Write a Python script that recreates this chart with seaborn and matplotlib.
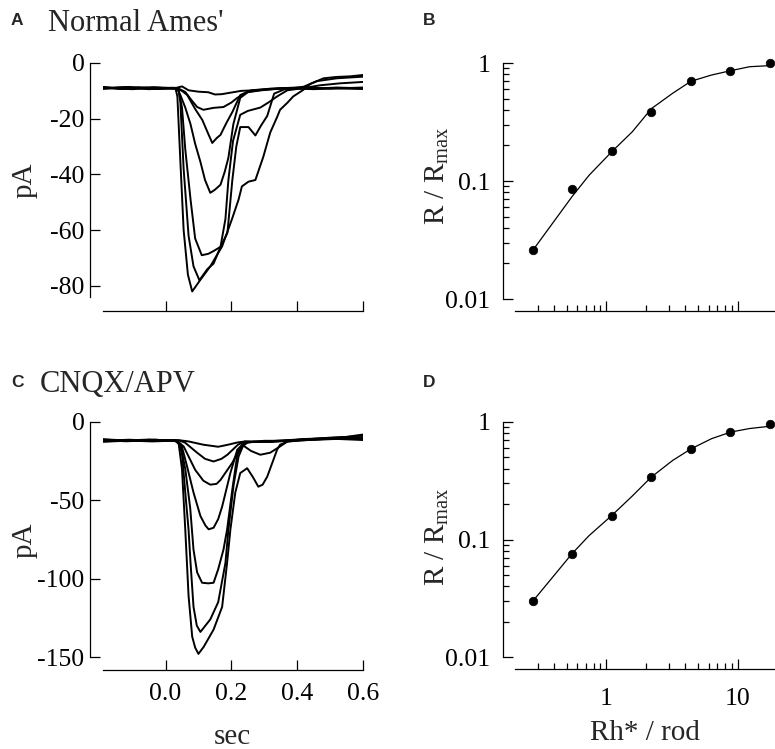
import numpy as np
import pandas as pd
import seaborn as sns
import matplotlib.pyplot as plt
from matplotlib.ticker import FixedLocator, FuncFormatter, LogLocator, NullFormatter

# ---- traces, panel A (Normal Ames'), (sec, pA) ----
ames_1 = [(-0.19, -8.6), (-0.14, -9.2), (-0.08, -8.7), (-0.02, -9.3), (0.03, -9.0), (0.05, -8.4),
          (0.07, -9.8), (0.10, -10.3), (0.13, -10.5), (0.15, -11.3), (0.17, -11.2), (0.20, -10.6),
          (0.23, -10.0), (0.27, -9.8), (0.32, -9.3), (0.38, -9.0), (0.45, -9.4), (0.52, -9.0), (0.60, -9.3)]
ames_2 = [(-0.19, -9.3), (-0.12, -8.8), (-0.05, -9.4), (0.02, -8.9), (0.04, -9.2), (0.06, -10.4),
          (0.08, -13.5), (0.096, -15.8), (0.115, -16.8), (0.146, -16.1), (0.176, -15.8), (0.20, -14.2),
          (0.218, -12.5), (0.25, -10.3), (0.30, -9.6), (0.36, -9.0), (0.44, -9.3), (0.52, -8.8), (0.60, -9.1)]
ames_3 = [(-0.19, -8.9), (-0.10, -9.4), (-0.03, -8.8), (0.035, -9.3), (0.05, -10.0), (0.066, -11.5),
          (0.09, -16.5), (0.112, -20.5), (0.13, -25.5), (0.142, -28.7), (0.155, -27.0), (0.167, -25.8),
          (0.185, -21.5), (0.203, -17.6), (0.227, -11.5), (0.26, -9.8), (0.32, -9.2), (0.40, -8.8),
          (0.50, -9.2), (0.60, -8.8)]
ames_4 = [(-0.19, -9.0), (-0.11, -8.6), (-0.04, -9.3), (0.035, -9.0), (0.045, -11.5), (0.06, -16.0),
          (0.076, -22.0), (0.09, -29.0), (0.106, -35.5), (0.12, -42.0), (0.136, -46.6), (0.15, -45.5),
          (0.167, -43.7), (0.18, -39.0), (0.191, -34.0), (0.206, -22.0), (0.227, -12.5), (0.25, -10.5),
          (0.29, -9.8), (0.35, -9.2), (0.45, -9.0), (0.60, -9.2)]
ames_5 = [(-0.19, -8.7), (-0.13, -9.3), (-0.06, -8.8), (0.03, -9.2), (0.04, -10.0), (0.05, -16.0),
          (0.06, -31.0), (0.076, -49.0), (0.09, -63.0), (0.11, -69.0), (0.13, -68.5), (0.146, -67.5),
          (0.167, -66.0), (0.182, -56.0), (0.191, -42.0), (0.205, -28.0), (0.227, -18.6), (0.25, -17.2),
          (0.288, -16.0), (0.315, -14.0), (0.339, -12.0), (0.37, -9.8), (0.42, -9.0), (0.47, -8.0),
          (0.53, -7.3), (0.60, -6.8)]
ames_6 = [(-0.19, -9.1), (-0.12, -8.7), (-0.05, -9.2), (0.03, -8.9), (0.04, -10.0), (0.045, -14.0),
          (0.055, -38.0), (0.07, -62.0), (0.085, -73.0), (0.103, -78.0), (0.127, -74.0), (0.146, -72.0),
          (0.167, -66.0), (0.188, -61.0), (0.203, -42.0), (0.215, -30.0), (0.227, -23.0), (0.252, -23.0),
          (0.273, -26.0), (0.29, -22.5), (0.309, -19.0), (0.33, -11.0), (0.36, -9.5), (0.42, -8.5),
          (0.46, -6.5), (0.52, -5.5), (0.56, -5.2), (0.60, -4.9)]
ames_7 = [(-0.19, -8.8), (-0.11, -9.3), (-0.04, -8.7), (0.03, -9.0), (0.036, -12.0), (0.045, -35.0),
          (0.055, -60.0), (0.068, -76.0), (0.081, -82.0), (0.093, -80.0), (0.106, -77.8), (0.136, -73.0),
          (0.172, -65.8), (0.202, -56.0), (0.222, -49.0), (0.232, -44.3), (0.252, -42.6), (0.273, -42.0),
          (0.297, -33.7), (0.318, -25.0), (0.339, -19.4), (0.348, -16.8), (0.37, -14.3), (0.388, -12.0),
          (0.418, -9.7), (0.44, -7.5), (0.48, -5.5), (0.52, -5.0), (0.56, -4.8), (0.60, -4.3)]

# ---- traces, panel C (CNQX/APV) ----
cnqx_1 = [(-0.19, -11.0), (-0.12, -11.8), (-0.05, -11.2), (0.02, -11.8), (0.04, -11.6), (0.07, -12.4),
          (0.115, -14.5), (0.16, -15.8), (0.19, -14.5), (0.22, -13.0), (0.243, -12.4), (0.28, -12.8),
          (0.32, -12.2), (0.37, -11.6), (0.43, -10.8), (0.50, -10.2), (0.55, -9.6), (0.60, -8.6)]
cnqx_2 = [(-0.19, -12.0), (-0.11, -11.3), (-0.04, -12.1), (0.03, -11.5), (0.045, -12.0), (0.06, -13.3),
          (0.096, -19.6), (0.12, -23.5), (0.146, -25.2), (0.17, -23.5), (0.188, -20.9), (0.22, -14.5),
          (0.24, -12.5), (0.30, -12.4), (0.36, -11.9), (0.42, -11.2), (0.50, -10.8), (0.60, -10.2)]
cnqx_3 = [(-0.19, -11.4), (-0.12, -12.3), (-0.03, -11.6), (0.035, -12.0), (0.055, -15.6), (0.09, -30.5),
          (0.115, -37.5), (0.136, -40.0), (0.155, -39.5), (0.167, -37.0), (0.203, -26.0), (0.227, -16.5),
          (0.25, -13.0), (0.30, -12.0), (0.37, -12.0), (0.45, -11.4), (0.52, -10.8), (0.60, -11.5)]
cnqx_4 = [(-0.19, -12.4), (-0.10, -11.6), (-0.02, -12.2), (0.035, -12.0), (0.05, -16.0), (0.065, -28.0),
          (0.085, -45.0), (0.106, -60.0), (0.121, -66.0), (0.131, -68.5), (0.146, -67.5), (0.16, -62.0),
          (0.172, -54.0), (0.197, -32.6), (0.218, -17.7), (0.24, -13.0), (0.29, -12.6), (0.35, -12.2),
          (0.42, -11.0), (0.50, -10.5), (0.60, -9.6)]
cnqx_5 = [(-0.19, -11.7), (-0.13, -12.2), (-0.05, -11.4), (0.03, -12.0), (0.045, -14.0), (0.06, -30.0),
          (0.075, -55.0), (0.085, -81.5), (0.096, -96.0), (0.111, -102.6), (0.13, -103.0), (0.146, -102.6),
          (0.16, -94.0), (0.176, -81.5), (0.187, -68.8), (0.203, -43.0), (0.218, -21.0), (0.236, -13.5),
          (0.27, -12.5), (0.32, -12.8), (0.38, -11.8), (0.46, -11.0), (0.53, -10.5), (0.60, -11.0)]
cnqx_6 = [(-0.19, -12.6), (-0.11, -11.9), (-0.04, -12.4), (0.03, -11.8), (0.04, -13.0), (0.05, -20.0),
          (0.06, -45.0), (0.07, -68.8), (0.076, -90.0), (0.085, -118.0), (0.095, -130.0), (0.106, -134.0),
          (0.136, -126.0), (0.16, -115.0), (0.182, -90.0), (0.191, -68.8), (0.207, -40.0), (0.222, -22.0),
          (0.236, -15.0), (0.26, -18.5), (0.288, -20.9), (0.318, -19.6), (0.348, -15.6), (0.37, -12.5),
          (0.42, -11.2), (0.50, -10.0), (0.55, -9.5), (0.60, -8.0)]
cnqx_7 = [(-0.19, -11.2), (-0.12, -12.0), (-0.03, -11.3), (0.03, -12.2), (0.04, -14.0), (0.05, -30.0),
          (0.06, -68.8), (0.07, -111.0), (0.081, -137.0), (0.09, -144.0), (0.10, -148.0), (0.116, -143.5),
          (0.146, -132.5), (0.172, -118.0), (0.187, -90.0), (0.197, -68.8), (0.212, -45.0), (0.227, -32.6),
          (0.248, -29.5), (0.265, -35.0), (0.282, -41.3), (0.295, -40.0), (0.309, -34.9), (0.339, -17.7),
          (0.348, -14.5), (0.37, -12.5), (0.43, -11.5), (0.50, -10.5), (0.56, -9.5), (0.60, -10.5)]

# ---- dose response ----
flash = [0.277, 0.55, 1.1, 2.2, 4.4, 8.8, 17.6]          # Rh*/rod
resp_ames = [0.026, 0.085, 0.18, 0.386, 0.70, 0.86, 1.0]
resp_cnqx = [0.030, 0.076, 0.158, 0.34, 0.59, 0.83, 0.97]
fit_x = [0.277, 0.55, 0.74, 1.1, 1.58, 2.2, 3.19, 4.4, 6.3, 8.8, 12.3, 17.6]
fit_ames = [0.026, 0.074, 0.112, 0.177, 0.262, 0.41, 0.553, 0.70, 0.79, 0.86, 0.93, 0.95]
fit_cnqx = [0.030, 0.076, 0.108, 0.16, 0.235, 0.34, 0.47, 0.59, 0.72, 0.82, 0.88, 0.92]

time_ticks = [0.0, 0.2, 0.4, 0.6]


def traces_df(traces):
    rows = []
    for i, tr in enumerate(traces):
        for t, v in tr:
            rows.append({"t": t, "pA": v, "trace": i})
    return pd.DataFrame(rows)


sns.set_theme(style="ticks")
plt.rcParams["font.family"] = ["Liberation Serif", "DejaVu Serif"]
plt.rcParams["mathtext.fontset"] = "custom"
plt.rcParams["mathtext.rm"] = "Liberation Serif"
plt.rcParams["axes.unicode_minus"] = False

W, H = 775, 749
fig = plt.figure(figsize=(W / 100, H / 100), dpi=100)


def px_axes(left, top, right, bottom):
    return fig.add_axes([left / W, 1 - bottom / H, (right - left) / W, (bottom - top) / H])


ax_a = px_axes(103, 63, 363, 297)
ax_b = px_axes(515, 63, 775, 299)
ax_c = px_axes(103, 422, 363, 657)
ax_d = px_axes(515, 422, 775, 657)

tick_kw = dict(direction="in", colors="black", labelsize=18.5, width=0.9)

# traces
for ax, traces, ylim, yticks, offs in [
        (ax_a, [ames_1, ames_2, ames_3, ames_4, ames_5, ames_6, ames_7], (-84, 0), [0, -20, -40, -60, -80], (9.4, 10)),
        (ax_c, [cnqx_1, cnqx_2, cnqx_3, cnqx_4, cnqx_5, cnqx_6, cnqx_7], (-150, 0), [0, -50, -100, -150], (9.4, 9.4))]:
    df = traces_df(traces)
    sns.lineplot(data=df, x="t", y="pA", units="trace", estimator=None, color="black",
                 lw=1.4, ax=ax, legend=False)
    ax.set_xlim(-0.19, 0.6)
    ax.set_ylim(*ylim)
    ax.yaxis.set_major_locator(FixedLocator(yticks))
    ax.xaxis.set_major_locator(FixedLocator(time_ticks))
    ax.xaxis.set_major_formatter(FuncFormatter(lambda v, p: f"{v:.1f}"))
    ax.tick_params(axis="both", which="major", length=7.5, pad=4, **tick_kw)
    ax.tick_params(axis="x", pad=9)
    ax.set_xlabel("")
    ax.set_ylabel("")
    sns.despine(ax=ax, offset=dict(left=offs[0], bottom=offs[1]))
    for s in ("left", "bottom"):
        ax.spines[s].set_linewidth(0.9)
        ax.spines[s].set_color("black")
ax_a.tick_params(axis="x", labelbottom=False)

# dose response
for ax, resp, fit in [(ax_b, resp_ames, fit_ames), (ax_d, resp_cnqx, fit_cnqx)]:
    ax.set_xscale("log")
    ax.set_yscale("log")
    sns.lineplot(x=fit_x, y=fit, color="black", lw=0.9, ax=ax, sort=False, clip_on=False)
    sns.scatterplot(x=flash, y=resp, color="black", edgecolor="black", s=38, ax=ax,
                    clip_on=False, zorder=3)
    ax.set_xlim(0.202, 19.2)
    ax.set_ylim(0.01, 1)
    ax.xaxis.set_major_locator(FixedLocator([1, 10]))
    ax.xaxis.set_minor_locator(LogLocator(base=10, subs=np.arange(2, 10)))
    ax.yaxis.set_major_locator(FixedLocator([0.01, 0.1, 1]))
    ax.yaxis.set_minor_locator(LogLocator(base=10, subs=np.arange(2, 10)))
    ax.xaxis.set_minor_formatter(NullFormatter())
    ax.yaxis.set_minor_formatter(NullFormatter())
    ax.xaxis.set_major_formatter(FuncFormatter(lambda v, p: f"{v:g}"))
    ax.yaxis.set_major_formatter(FuncFormatter(lambda v, p: f"{v:g}"))
    ax.tick_params(axis="both", which="major", length=7.5, **tick_kw)
    ax.tick_params(axis="both", which="minor", length=4, direction="in", width=0.9, colors="black")
    ax.tick_params(axis="y", which="major", pad=9)
    ax.tick_params(axis="x", which="major", pad=14)
    sns.despine(ax=ax, offset=8.6)
    for s in ("left", "bottom"):
        ax.spines[s].set_linewidth(0.9)
        ax.spines[s].set_color("black")
ax_b.tick_params(axis="x", labelbottom=False)


def ftext(x, y, s, **kw):
    fig.text(x / W, 1 - y / H, s, **kw)


# panel letters and titles
letter_kw = dict(family="Liberation Sans", weight="bold", fontsize=12.5, va="baseline", ha="left")
ftext(11, 25, "A", **letter_kw)
ftext(423, 25, "B", **letter_kw)
ftext(11, 387, "C", **letter_kw)
ftext(423, 387, "D", **letter_kw)
ftext(48, 31, "Normal Ames'", fontsize=22, va="baseline", ha="left")
ftext(40, 392, "CNQX/APV", fontsize=22, va="baseline", ha="left")

# axis labels
lab_kw = dict(fontsize=21, ha="center", va="center")
ftext(25, 180, "pA", rotation=90, **lab_kw)
ftext(25, 540, "pA", rotation=90, **lab_kw)
ftext(437, 176, r"R / R$_{\mathrm{max}}$", rotation=90, **lab_kw)
ftext(437, 537, r"R / R$_{\mathrm{max}}$", rotation=90, **lab_kw)
ftext(232, 737, "sec", **lab_kw)
ftext(645, 733, "Rh* / rod", **lab_kw)

fig.savefig("out.png", dpi=100)
